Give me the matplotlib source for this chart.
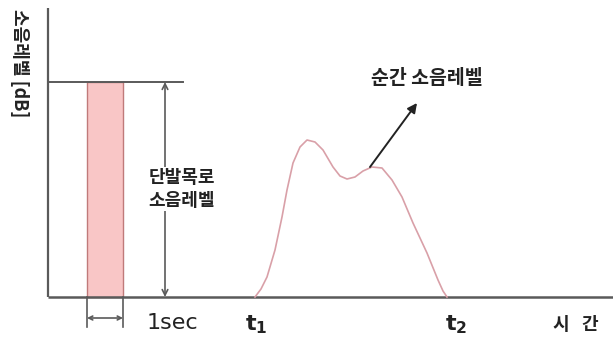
import matplotlib
matplotlib.use("Agg")
import matplotlib.pyplot as plt
from matplotlib.patches import Rectangle

plt.rcParams['font.family'] = ['Noto Sans CJK KR', 'DejaVu Sans']

# Diagram coordinates (x: time position, y: level), origin at axis corner
curve_t = [207, 213, 219, 227, 234, 239, 245, 252, 259, 267, 275, 285, 292, 299,
           307, 315, 324, 334, 344, 354, 365, 379, 390, 395, 399]
curve_level = [0, 8, 20, 47, 80, 107, 134, 150, 157, 155, 147, 130, 121, 118,
               120, 126, 130, 129, 117, 100, 74, 44, 17, 6, 0]
event_level = 215          # single-event noise level
bar_start, bar_end = 39, 75  # the 1 sec window
t1, t2 = 205, 400
labels = {"ylabel": "소음레벨 [dB]", "event": "단발목로\n소음레벨", "inst": "순간 소음레벨",
          "sec": "1sec", "time": "시   간"}

X0, Y0 = 48, 297  # pixel origin

fig = plt.figure(figsize=(6.13, 3.41), dpi=100)
ax = fig.add_axes([0, 0, 1, 1])
ax.set_xlim(-X0, 613 - X0)
ax.set_ylim(-(341 - Y0), Y0)
ax.axis("off")

axc = "#5a5a5a"
# axes
ax.plot([0, 0], [0, 289], color=axc, lw=1.6, solid_capstyle="butt")
ax.plot([0, 565], [0, 0], color=axc, lw=1.8, solid_capstyle="butt")
# event level line
ax.plot([0, 135], [event_level, event_level], color=axc, lw=1.4)
# pink bar
ax.add_patch(Rectangle((bar_start, 0), bar_end - bar_start, event_level,
                       facecolor="#f9c6c6", edgecolor="#c07a7a", lw=1.0))
# double arrow for level
ax.annotate("", xy=(117, 0), xytext=(117, event_level),
            arrowprops=dict(arrowstyle="<->", color=axc, lw=1.2, shrinkA=0, shrinkB=0,
                            mutation_scale=10))
ax.text(134, 108, labels["event"], fontsize=13, fontweight="bold", color="#222",
        ha="center", va="center", linespacing=1.3,
        bbox=dict(facecolor="white", edgecolor="none", pad=0.5))
# bracket under bar
ax.plot([bar_start, bar_start], [0, -30], color=axc, lw=1.2)
ax.plot([bar_end, bar_end], [0, -30], color=axc, lw=1.2)
ax.annotate("", xy=(bar_start, -21), xytext=(bar_end, -21),
            arrowprops=dict(arrowstyle="<->", color=axc, lw=1.2, shrinkA=0, shrinkB=0,
                            mutation_scale=7))
ax.text(99, -26, labels["sec"], fontsize=16, color="#222", ha="left", va="center",
        family="DejaVu Sans")
# curve
ax.plot(curve_t, curve_level, color="#d9a0a8", lw=1.2)
# arrow to label
ax.annotate("", xy=(369, 194), xytext=(322, 130),
            arrowprops=dict(arrowstyle="-|>", color="#222", lw=1.4, shrinkA=0, shrinkB=0,
                            mutation_scale=14))
ax.text(379, 218, labels["inst"], fontsize=14, fontweight="bold", color="#222",
        ha="center", va="center")
# time labels
ax.text(t1 + 3, -28, r"$\mathbf{t}_\mathbf{1}$", fontsize=16, color="#222",
        ha="center", va="center")
ax.text(t2 + 8, -28, r"$\mathbf{t}_\mathbf{2}$", fontsize=16, color="#222",
        ha="center", va="center")
ax.text(528, -28, labels["time"], fontsize=13, fontweight="bold", color="#222",
        ha="center", va="center")
# y label
ax.text(-29, 288, labels["ylabel"], fontsize=13, fontweight="bold", color="#222",
        rotation=270, ha="center", va="top")

fig.savefig("out.png", dpi=100)
